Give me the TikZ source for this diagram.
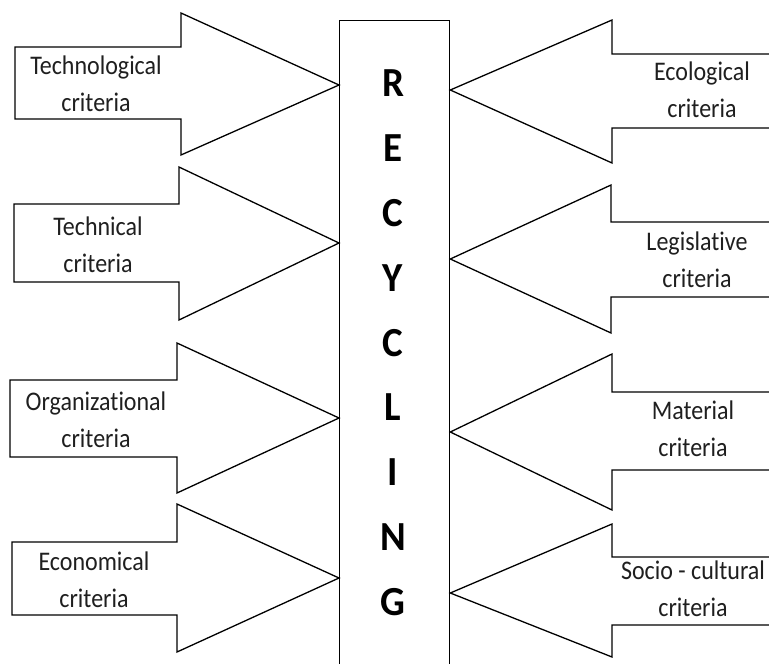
\documentclass[tikz,border=0pt]{standalone}
\usepackage{fontspec}
\setmainfont[RawFeature=-liga]{Carlito}
% two-line criterion label, slightly stretched upwards
\newcommand\critlabel[2]{\scalebox{1}[1.12]{\fontsize{24}{33}\selectfont
  \begin{tabular}{@{}c@{}}#1\\#2\end{tabular}}}
\begin{document}
\begin{tikzpicture}[x=1pt,y=-1pt,
  criterion/.style={draw=black,line width=1.3pt,fill=white,line join=miter},
  column/.style={draw=black,line width=1.3pt,fill=white,inner sep=0pt,
    minimum width=110pt,minimum height=680pt,anchor=north west},
  crit/.style={text=black!88,inner sep=0pt},
  letter/.style={font=\bfseries\fontsize{39}{39}\selectfont,inner sep=0pt}]
\useasboundingbox (0,0) rectangle (769,664);
\clip (0,0) rectangle (769,664);
\fill[white] (0,0) rectangle (769,664);

% central column
\node[column] (recycling) at (339,20) {};
\foreach \l [count=\i from 0] in {R,E,C,Y,C,L,I,N,G}
  \node[letter] (let\i) at (393,83+64.9*\i) {\scalebox{1}[1.06]{\l}};

% block arrows pointing right, into the column
\coordinate (lt1) at (recycling.west |- 0,85);
\coordinate (lt2) at (recycling.west |- 0,243);
\coordinate (lt3) at (recycling.west |- 0,418);
\coordinate (lt4) at (recycling.west |- 0,578);
\path[criterion] (15,47) -- (181,47) -- (181,13) -- (lt1) -- (181,155) -- (181,119) -- (15,119) -- cycle;
\path[criterion] (14,204) -- (179,204) -- (179,167) -- (lt2) -- (179,320) -- (179,282) -- (14,282) -- cycle;
\path[criterion] (10,380) -- (177,380) -- (177,343) -- (lt3) -- (177,493) -- (177,457) -- (10,457) -- cycle;
\path[criterion] (12,542) -- (177,542) -- (177,504) -- (lt4) -- (177,652) -- (177,615) -- (12,615) -- cycle;

% block arrows pointing left, into the column
\coordinate (rt1) at (recycling.east |- 0,90);
\coordinate (rt2) at (recycling.east |- 0,259);
\coordinate (rt3) at (recycling.east |- 0,432);
\coordinate (rt4) at (recycling.east |- 0,593);
\path[criterion] (780,54) -- (612,54) -- (612,20) -- (rt1) -- (612,163) -- (612,128) -- (780,128);
\path[criterion] (780,222) -- (611,222) -- (611,185) -- (rt2) -- (611,333) -- (611,297) -- (780,297);
\path[criterion] (780,392) -- (612,392) -- (612,354) -- (rt3) -- (612,510) -- (612,470) -- (780,470);
\path[criterion] (780,557) -- (612,557) -- (612,524) -- (rt4) -- (612,657) -- (612,625) -- (780,625);

% criteria labels
\node[crit] (technological) at (96,86) {\critlabel{Technological}{criteria}};
\node[crit] (technical) at (98,247) {\critlabel{Technical}{criteria}};
\node[crit] (organizational) at (96,422) {\critlabel{Organizational}{criteria}};
\node[crit] (economical) at (94,582) {\critlabel{Economical}{criteria}};
\node[crit] (ecological) at (702,92) {\critlabel{Ecological}{criteria}};
\node[crit] (legislative) at (697,262) {\critlabel{Legislative}{criteria}};
\node[crit] (material) at (693,431) {\critlabel{Material}{criteria}};
\node[crit] (sociocultural) at (693,591) {\critlabel{Socio - cultural}{criteria}};
\end{tikzpicture}
\end{document}
